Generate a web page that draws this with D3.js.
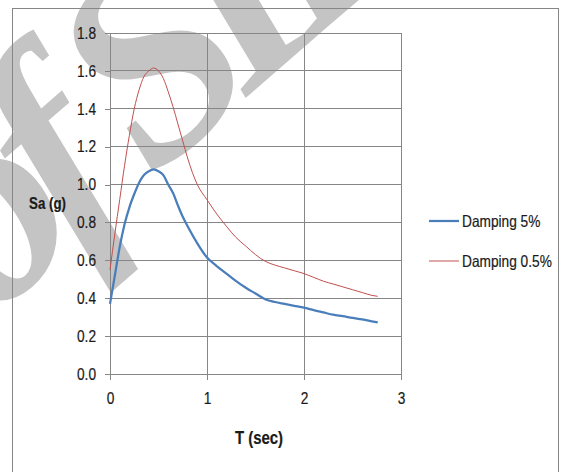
<!DOCTYPE html>
<html>
<head>
<meta charset="utf-8">
<script src="https://cdn.jsdelivr.net/npm/d3@7"></script>
<style>
  html, body { margin: 0; padding: 0; background: #fff; }
  svg { display: block; }
  .lbl { font-family: "Liberation Sans", Arial, sans-serif; fill: #1a1a1a; stroke: #1a1a1a; stroke-width: 0.2px; }
</style>
</head>
<body>
<script>
// Response spectrum: period T (sec) against spectral acceleration Sa (g)
const periods = [0, 0.05, 0.1, 0.15, 0.2, 0.25, 0.3, 0.35, 0.4, 0.45, 0.5, 0.55, 0.6, 0.65, 0.7, 0.75, 0.8, 0.9,
  1.0, 1.1, 1.2, 1.3, 1.4, 1.5, 1.6, 1.7, 1.8, 1.9, 2.0, 2.1, 2.2, 2.3, 2.4, 2.5, 2.6, 2.7, 2.76];
const damping5 = [0.37, 0.52, 0.67, 0.79, 0.88, 0.95, 1.01, 1.05, 1.07, 1.08, 1.07, 1.05, 1.00, 0.955, 0.89, 0.83, 0.78, 0.69,
  0.615, 0.57, 0.53, 0.49, 0.455, 0.425, 0.395, 0.38, 0.37, 0.36, 0.35, 0.337, 0.325, 0.313, 0.305, 0.296, 0.288, 0.278, 0.272];
const damping05 = [0.55, 0.74, 0.92, 1.10, 1.26, 1.40, 1.50, 1.57, 1.60, 1.615, 1.60, 1.56, 1.49, 1.41, 1.32, 1.23, 1.14, 1.00,
  0.92, 0.845, 0.78, 0.72, 0.675, 0.63, 0.595, 0.575, 0.56, 0.545, 0.53, 0.51, 0.49, 0.475, 0.46, 0.445, 0.43, 0.415, 0.41];
const xTicks = [0, 1, 2, 3];
const yTicks = [0, 0.2, 0.4, 0.6, 0.8, 1.0, 1.2, 1.4, 1.6, 1.8];
const seriesNames = ["Damping 5%", "Damping 0.5%"];
const seriesColors = ["#4a7ebb", "#c0504d"];
const seriesWidths = [2.25, 1];

const W = 569, H = 472;
const svg = d3.select("body").append("svg").attr("width", W).attr("height", H);

// condense text horizontally to a narrow face
function narrow(sel, k) {
  sel.each(function () {
    const len = this.getComputedTextLength();
    d3.select(this).attr("textLength", len * k).attr("lengthAdjust", "spacingAndGlyphs");
  });
}

// background stamp
const wm = svg.append("g").attr("transform", "translate(-11,321) rotate(-41)")
  .style("font-family", "'Liberation Serif', 'DejaVu Serif', serif")
  .style("font-style", "italic").style("font-weight", "bold")
  .style("font-size", "275px").style("letter-spacing", "-27px").attr("fill", "#c4c4c4");
wm.append("text").attr("x", -40).attr("text-anchor", "end").text("Archive");
wm.append("text").attr("x", 0).text("of SID");

// chart frame
svg.append("rect").attr("x", 12.5).attr("y", 8.5).attr("width", 546).attr("height", 470)
  .attr("fill", "none").attr("stroke", "#868686").attr("stroke-width", 1);

const x = d3.scaleLinear().domain([0, 3]).range([110, 401]);
const y = d3.scaleLinear().domain([0, 1.8]).range([374, 33]);

const grid = svg.append("g").attr("stroke", "#868686").attr("stroke-width", 1).attr("shape-rendering", "crispEdges");
grid.selectAll("line.h").data(yTicks.slice(1)).join("line")
  .attr("x1", x(0)).attr("x2", x(3)).attr("y1", d => y(d)).attr("y2", d => y(d));
grid.selectAll("line.v").data(xTicks.slice(1)).join("line")
  .attr("x1", d => x(d)).attr("x2", d => x(d)).attr("y1", y(0)).attr("y2", y(1.8));

// axes
const yAxis = svg.append("g").attr("transform", `translate(${x(0)},0)`)
  .call(d3.axisLeft(y).tickValues(yTicks).tickFormat(d3.format(".1f")).tickSize(5).tickSizeOuter(0).tickPadding(9));
const xAxis = svg.append("g").attr("transform", `translate(0,${y(0)})`)
  .call(d3.axisBottom(x).tickValues(xTicks).tickFormat(d3.format("d")).tickSize(6).tickSizeOuter(0).tickPadding(12));
[yAxis, xAxis].forEach(g => {
  g.select(".domain").attr("stroke", "#868686").attr("shape-rendering", "crispEdges");
  g.selectAll(".tick line").attr("stroke", "#868686").attr("shape-rendering", "crispEdges");
  g.selectAll(".tick text").attr("class", "lbl").attr("fill", "#1a1a1a").style("font-size", "16.5px")
    .attr("font-family", null);
  narrow(g.selectAll(".tick text"), 0.83);
});

// curves
const series = [damping5, damping05];
const line = d3.line().x((d, i) => x(periods[i])).y(d => y(d)).curve(d3.curveMonotoneX);
series.forEach((s, k) => {
  svg.append("path").datum(s).attr("d", line).attr("fill", "none")
    .attr("stroke", seriesColors[k]).attr("stroke-width", seriesWidths[k]).attr("stroke-linejoin", "round");
});

// axis titles
const yTitle = svg.append("text").attr("class", "lbl").attr("x", 47.5).attr("y", 209).attr("text-anchor", "middle")
  .style("font-size", "16px").style("font-weight", "bold").text("Sa (g)");
const xTitle = svg.append("text").attr("class", "lbl").attr("x", 259).attr("y", 444).attr("text-anchor", "middle")
  .style("font-size", "18px").style("font-weight", "bold").text("T (sec)");
narrow(yTitle, 0.83);
narrow(xTitle, 0.83);

// legend
const legend = svg.append("g");
seriesNames.forEach((name, k) => {
  const ly = 221 + k * 40;
  legend.append("line").attr("x1", 429).attr("x2", 459).attr("y1", ly).attr("y2", ly)
    .attr("stroke", seriesColors[k]).attr("stroke-width", seriesWidths[k]);
  const t = legend.append("text").attr("class", "lbl").attr("x", 462).attr("y", ly + 5.5)
    .style("font-size", "16.5px").text(name);
  narrow(t, 0.83);
});
</script>
</body>
</html>
